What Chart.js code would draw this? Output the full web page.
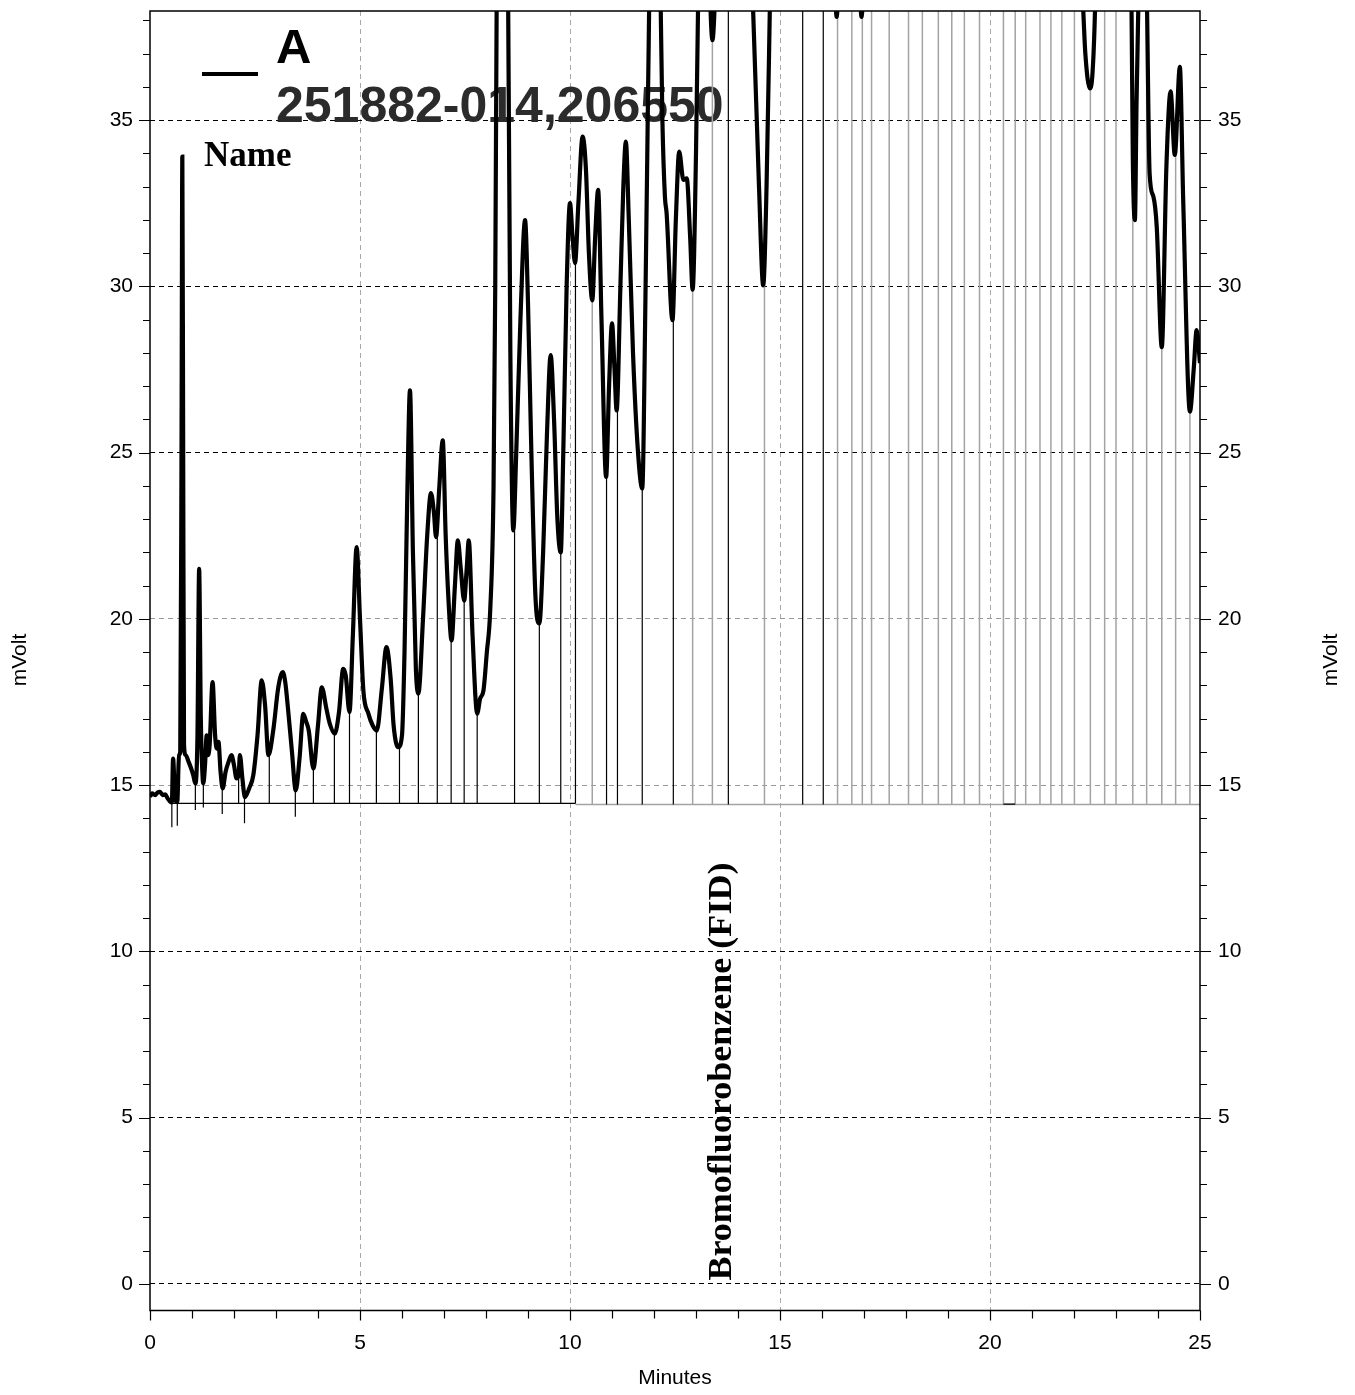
<!DOCTYPE html>
<html>
<head>
<meta charset="utf-8">
<title>Chromatogram A</title>
<script src="https://cdn.jsdelivr.net/npm/chart.js@4/dist/chart.umd.min.js"></script>
<style>
  html, body { margin: 0; padding: 0; background: #fff; }
  #wrap { width: 1355px; height: 1395px; }
</style>
</head>
<body>
<div id="wrap"><canvas id="chrom" width="1355" height="1395"></canvas></div>
<script>
// trace A (values above ~38.3 run off the top of the plot)
const minutes = [
  0.00, 0.05, 0.12, 0.18, 0.24, 0.30, 0.36, 0.42, 0.48, 0.52, 0.55, 0.60, 0.65, 0.69, 0.72, 0.75, 0.77, 0.79, 0.81, 0.85,
  0.92, 0.98, 1.03, 1.08, 1.13, 1.17, 1.21, 1.25, 1.27, 1.31, 1.35, 1.38, 1.42, 1.49, 1.55, 1.59, 1.63, 1.68, 1.73, 1.80,
  1.87, 1.94, 2.00, 2.06, 2.11, 2.14, 2.20, 2.26, 2.36, 2.46, 2.56, 2.66, 2.74, 2.82, 2.94, 3.05, 3.16, 3.22, 3.29, 3.38,
  3.47, 3.56, 3.65, 3.72, 3.78, 3.89, 4.00, 4.09, 4.20, 4.28, 4.40, 4.50, 4.60, 4.66, 4.75, 4.83, 4.92, 5.00, 5.08, 5.20,
  5.30, 5.40, 5.52, 5.63, 5.73, 5.80, 5.91, 6.00, 6.06, 6.13, 6.19, 6.26, 6.33, 6.39, 6.50, 6.60, 6.69, 6.76, 6.81, 6.89,
  6.97, 7.04, 7.11, 7.18, 7.26, 7.33, 7.40, 7.48, 7.54, 7.59, 7.68, 7.79, 7.86, 7.94, 8.02, 8.10, 8.18, 8.22, 8.26, 8.32,
  8.45, 8.52, 8.58, 8.65, 8.72, 8.82, 8.93, 9.00, 9.08, 9.18, 9.27, 9.36, 9.45, 9.54, 9.62, 9.70, 9.78, 9.84, 9.92, 10.00,
  10.06, 10.12, 10.20, 10.30, 10.38, 10.45, 10.53, 10.60, 10.67, 10.75, 10.86, 10.93, 11.00, 11.06, 11.11, 11.20, 11.27, 11.33, 11.40, 11.50,
  11.62, 11.72, 11.80, 11.86, 11.90, 12.00, 12.10, 12.14, 12.20, 12.26, 12.30, 12.44, 12.52, 12.60, 12.70, 12.78, 12.86, 12.92, 13.00, 13.05,
  13.15, 13.30, 13.39, 13.48, 13.70, 14.10, 14.30, 14.36, 14.50, 14.60, 14.68, 14.76, 14.85, 15.50, 16.20, 16.35, 16.50, 16.80, 16.94, 17.10,
  18.00, 20.00, 21.80, 22.15, 22.22, 22.27, 22.38, 22.44, 22.50, 22.60, 23.00, 23.30, 23.37, 23.40, 23.45, 23.49, 23.53, 23.60, 23.70, 23.74,
  23.80, 23.89, 23.97, 24.09, 24.20, 24.30, 24.40, 24.52, 24.60, 24.76, 24.85, 24.92, 25.00
];
const mvolt = [
  14.65, 14.75, 14.70, 14.78, 14.80, 14.70, 14.72, 14.60, 14.50, 14.48, 15.80, 14.55, 14.50, 15.90, 16.00, 25.00, 33.90, 25.00, 16.20, 15.90,
  15.70, 15.50, 15.30, 15.05, 16.50, 21.50, 17.00, 15.30, 15.05, 15.60, 16.50, 15.90, 16.20, 18.10, 16.50, 16.10, 16.30, 15.40, 14.90, 15.40,
  15.70, 15.90, 15.60, 15.20, 15.30, 15.90, 15.20, 14.64, 14.90, 15.30, 16.50, 18.15, 17.40, 15.90, 16.70, 17.90, 18.40, 18.10, 17.24, 16.00,
  14.84, 15.80, 17.14, 16.90, 16.64, 15.50, 16.80, 17.94, 17.30, 16.85, 16.55, 17.20, 18.50, 18.30, 17.20, 19.50, 22.16, 20.00, 17.85, 17.15,
  16.80, 16.64, 17.90, 19.15, 18.20, 16.80, 16.14, 16.50, 19.00, 24.00, 26.87, 22.00, 18.50, 17.75, 20.00, 22.50, 23.78, 23.20, 22.46, 24.00,
  25.37, 22.50, 20.50, 19.35, 21.00, 22.36, 21.50, 20.55, 21.50, 22.36, 19.50, 17.15, 17.60, 17.85, 19.00, 20.25, 24.00, 30.00, 40.00, 60.00,
  60.00, 40.00, 28.00, 22.66, 25.00, 29.00, 31.99, 29.50, 25.00, 20.60, 19.86, 22.00, 25.50, 27.93, 26.00, 23.00, 22.00, 25.00, 30.00, 32.50,
  31.50, 30.70, 32.50, 34.50, 33.50, 31.00, 29.58, 31.50, 32.90, 29.00, 24.27, 27.00, 28.89, 27.50, 26.27, 30.00, 33.00, 34.35, 32.00, 28.00,
  25.00, 23.92, 30.00, 36.00, 40.00, 55.00, 45.00, 40.00, 35.00, 32.70, 32.20, 28.98, 32.00, 34.05, 33.20, 33.25, 31.50, 29.90, 34.00, 38.50,
  45.00, 40.00, 37.40, 40.00, 55.00, 55.00, 40.00, 38.30, 33.00, 30.03, 33.00, 38.50, 45.00, 55.00, 45.00, 38.10, 45.00, 45.00, 38.10, 45.00,
  55.00, 55.00, 50.00, 40.00, 38.30, 37.00, 35.95, 36.40, 38.30, 45.00, 50.00, 42.00, 38.30, 33.90, 31.99, 35.60, 38.30, 45.00, 42.00, 38.30,
  33.40, 32.70, 31.79, 28.17, 33.60, 35.86, 33.95, 36.60, 32.60, 26.23, 27.50, 28.68, 27.69
];

// integration drop lines: time, top (trace), bottom, shade
const dropTimes = [
  0.52, 0.65, 1.08, 1.27, 1.72, 2.11, 2.25, 2.84, 3.46, 3.89, 4.39, 4.75, 5.39, 5.94, 6.39, 6.84, 7.17, 7.48, 7.79, 8.68,
  9.27, 9.78, 10.13, 10.53, 10.87, 11.13, 11.72, 12.46, 12.92, 13.39, 13.77, 14.63, 15.54, 16.03, 16.37, 16.71, 16.96, 17.18, 17.60, 18.06,
  18.39, 18.77, 19.09, 19.39, 19.75, 20.32, 20.60, 20.85, 21.19, 21.45, 21.71, 22.01, 22.39, 22.73, 23.00, 23.40, 23.73, 24.09, 24.42, 24.76
];
const dropTops = [
  14.50, 14.50, 15.05, 15.05, 14.90, 15.20, 14.65, 15.90, 14.85, 15.50, 16.55, 17.20, 16.64, 16.14, 17.75, 22.46, 19.35, 20.55, 17.15, 22.66,
  19.86, 22.00, 30.70, 29.60, 24.27, 26.27, 23.92, 28.98, 29.90, 37.40, 40.00, 30.03, 40.00, 40.00, 38.10, 40.00, 38.10, 40.00, 40.00, 40.00,
  40.00, 40.00, 40.00, 40.00, 40.00, 40.00, 40.00, 40.00, 40.00, 40.00, 40.00, 40.00, 35.95, 40.00, 40.00, 32.50, 40.00, 28.17, 33.95, 26.23
];
const dropBottoms = [
  13.73, 13.78, 14.25, 14.33, 14.13, 14.45, 13.85, 14.45, 14.05, 14.45, 14.45, 14.45, 14.45, 14.45, 14.45, 14.45, 14.45, 14.45, 14.45, 14.45,
  14.45, 14.45, 14.45, 14.42, 14.42, 14.42, 14.42, 14.42, 14.42, 14.42, 14.42, 14.42, 14.42, 14.42, 14.42, 14.42, 14.42, 14.42, 14.42, 14.42,
  14.42, 14.42, 14.42, 14.42, 14.42, 14.42, 14.42, 14.42, 14.42, 14.42, 14.42, 14.42, 14.42, 14.42, 14.42, 14.42, 14.42, 14.42, 14.42, 14.42
];
const dropShade = [
  'k','k','k','k','k','k','k','k','k','k','k','k','k','k','k','k','k','k','k','k',
  'k','k','k','g','k','k','k','k','g','g','k','g','k','k','g','g','g','g','g','g',
  'g','g','g','g','g','g','g','g','g','g','g','g','g','g','g','g','g','g','g','g'
];

// baselines under the peaks
const baseFrom = [0.52, 10.13, 20.32];
const baseTo = [10.13, 25.00, 20.60];
const baseLevel = [14.45, 14.42, 14.43];
const baseShade = ['k', 'g', 'k'];

// axes
const xTickLabels = [0, 5, 10, 15, 20, 25];
const yTickLabels = [0, 5, 10, 15, 20, 25, 30, 35];
const yGrayGrid = [15, 20];
const xRange = [0, 25];
const yRange = [-0.8, 38.28];

// peak name
const peakName = 'Bromofluorobenzene (FID)';
const peakNameAt = 13.83;

function segments(shade) {
  const pts = [];
  dropTimes.forEach((t, i) => {
    if (dropShade[i] !== shade) return;
    pts.push({x: t, y: dropBottoms[i]}, {x: t, y: dropTops[i]}, {x: t, y: null});
  });
  baseFrom.forEach((t, i) => {
    if (baseShade[i] !== shade) return;
    pts.push({x: t, y: baseLevel[i]}, {x: baseTo[i], y: baseLevel[i]}, {x: baseTo[i], y: null});
  });
  return pts;
}

const isLabel = (v, list) => list.some(l => Math.abs(l - v) < 1e-6);
const AXIS_FONT = {family: 'Arial, "Liberation Sans", sans-serif', size: 21};

const decor = {
  id: 'decor',
  beforeDatasetsDraw(chart) {
    const ctx = chart.ctx;
    const xs = chart.scales.x, ys = chart.scales.y;
    ctx.save();
    // legend
    ctx.strokeStyle = '#000';
    ctx.lineWidth = 4;
    ctx.beginPath();
    ctx.moveTo(202, 74);
    ctx.lineTo(258, 74);
    ctx.stroke();
    ctx.fillStyle = '#000';
    ctx.textBaseline = 'alphabetic';
    ctx.textAlign = 'left';
    ctx.font = 'bold 49px Arial, "Liberation Sans", sans-serif';
    ctx.fillText('A', 276, 63);
    ctx.fillStyle = '#2b2b2b';
    ctx.font = 'bold 50px Arial, "Liberation Sans", sans-serif';
    ctx.fillText('251882-014,206550', 276, 122);
    ctx.fillStyle = '#000';
    ctx.font = 'bold 35px "Liberation Serif", "Times New Roman", serif';
    ctx.fillText('Name', 204, 166);

    // peak name, vertical
    ctx.font = 'bold 33px "Liberation Serif", "Times New Roman", serif';
    const w = ctx.measureText(peakName).width;
    ctx.translate(xs.getPixelForValue(peakNameAt), ys.getPixelForValue(0.1));
    ctx.rotate(-Math.PI / 2);
    ctx.scale(418 / w, 1);
    ctx.fillText(peakName, 0, 0);
    ctx.restore();
  },
  afterDatasetsDraw(chart) {
    const ctx = chart.ctx;
    const a = chart.chartArea;
    const xs = chart.scales.x, ys = chart.scales.y;
    ctx.save();
    ctx.strokeStyle = '#000';
    ctx.lineWidth = 1.5;
    ctx.strokeRect(a.left, a.top, a.right - a.left, a.bottom - a.top);
    ctx.lineWidth = 1.2;
    ctx.beginPath();
    for (let v = Math.ceil(yRange[0]); v <= Math.floor(yRange[1]); v++) {
      const py = Math.round(ys.getPixelForValue(v)) + 0.5;
      const len = v % 5 === 0 ? 11 : 7;
      ctx.moveTo(a.left - len, py); ctx.lineTo(a.left, py);
      ctx.moveTo(a.right, py); ctx.lineTo(a.right + len, py);
    }
    for (let v = xRange[0]; v <= xRange[1]; v++) {
      const px = Math.round(xs.getPixelForValue(v)) + 0.5;
      const len = v % 5 === 0 ? 10 : 8;
      ctx.moveTo(px, a.bottom); ctx.lineTo(px, a.bottom + len);
    }
    ctx.stroke();

    // axis titles
    ctx.fillStyle = '#000';
    ctx.font = '21px Arial, "Liberation Sans", sans-serif';
    ctx.textAlign = 'center';
    ctx.textBaseline = 'middle';
    ctx.fillText('Minutes', (a.left + a.right) / 2, 1378);
    [20, 1331].forEach(x => {
      ctx.save();
      ctx.translate(x, 660);
      ctx.rotate(-Math.PI / 2);
      ctx.fillText('mVolt', 0, 0);
      ctx.restore();
    });
    ctx.restore();
  }
};

const fitY = w => s => { s.width = w; s.paddingTop = 0; s.paddingBottom = 0; };

new Chart(document.getElementById('chrom'), {
  type: 'line',
  data: {
    datasets: [
      {
        label: 'A',
        data: minutes.map((t, i) => ({x: t, y: mvolt[i]})),
        borderColor: '#000',
        borderWidth: 4.2,
        pointRadius: 0,
        cubicInterpolationMode: 'monotone',
        clip: 0
      },
      {
        label: 'drops',
        data: segments('k'),
        borderColor: '#000',
        borderWidth: 1.2,
        pointRadius: 0,
        spanGaps: false,
        clip: 0
      },
      {
        label: 'drops gray',
        data: segments('g'),
        borderColor: '#a3a3a3',
        borderWidth: 1.5,
        pointRadius: 0,
        spanGaps: false,
        clip: 0
      }
    ]
  },
  options: {
    responsive: false,
    animation: false,
    events: [],
    layout: {padding: {top: 11, left: 0, right: 0, bottom: 0}},
    plugins: {legend: {display: false}, tooltip: {enabled: false}},
    scales: {
      x: {
        type: 'linear',
        position: 'bottom',
        min: xRange[0],
        max: xRange[1],
        afterFit: s => { s.height = 84.5; s.paddingLeft = 0; s.paddingRight = 0; },
        ticks: {
          stepSize: 1,
          autoSkip: false,
          maxRotation: 0,
          padding: 20,
          color: '#000',
          font: AXIS_FONT,
          callback: v => isLabel(v, xTickLabels) ? String(v) : ''
        },
        grid: {
          drawTicks: false,
          lineWidth: 1,
          color: c => (c.tick && isLabel(c.tick.value, xTickLabels) && c.tick.value > xRange[0] && c.tick.value < xRange[1]) ? '#a8a8a8' : 'rgba(0,0,0,0)'
        },
        border: {display: false, dash: [5, 4]}
      },
      y: {
        type: 'linear',
        position: 'left',
        min: yRange[0],
        max: yRange[1],
        afterFit: fitY(150),
        ticks: {
          stepSize: 1,
          autoSkip: false,
          padding: 17,
          color: '#000',
          font: AXIS_FONT,
          callback: v => isLabel(v, yTickLabels) ? String(v) : ''
        },
        grid: {
          drawTicks: false,
          lineWidth: 1,
          color: c => {
            if (!c.tick || !isLabel(c.tick.value, yTickLabels)) return 'rgba(0,0,0,0)';
            return isLabel(c.tick.value, yGrayGrid) ? '#9a9a9a' : '#000';
          }
        },
        border: {display: false, dash: [5, 4]}
      },
      y2: {
        type: 'linear',
        position: 'right',
        min: yRange[0],
        max: yRange[1],
        afterFit: fitY(155),
        ticks: {
          stepSize: 1,
          autoSkip: false,
          padding: 18,
          color: '#000',
          font: AXIS_FONT,
          callback: v => isLabel(v, yTickLabels) ? String(v) : ''
        },
        grid: {display: false, drawTicks: false},
        border: {display: false}
      }
    }
  },
  plugins: [decor]
});
</script>
</body>
</html>
